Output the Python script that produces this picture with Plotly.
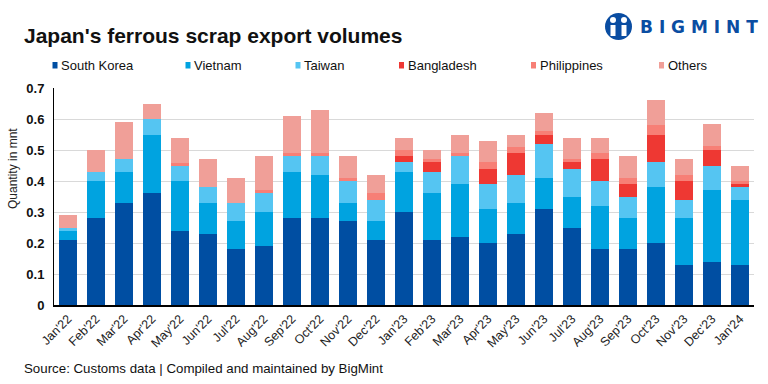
import plotly.graph_objects as go

months = ["Jan'22", "Feb'22", "Mar'22", "Apr'22", "May'22", "Jun'22", "Jul'22", "Aug'22",
          "Sep'22", "Oct'22", "Nov'22", "Dec'22", "Jan'23", "Feb'23", "Mar'23", "Apr'23",
          "May'23", "Jun'23", "Jul'23", "Aug'23", "Sep'23", "Oct'23", "Nov'23", "Dec'23", "Jan'24"]

south_korea = [0.21, 0.28, 0.33, 0.36, 0.24, 0.23, 0.18, 0.19, 0.28, 0.28, 0.27, 0.21, 0.30,
               0.21, 0.22, 0.20, 0.23, 0.31, 0.25, 0.18, 0.18, 0.20, 0.13, 0.14, 0.13]
vietnam = [0.03, 0.12, 0.10, 0.19, 0.16, 0.10, 0.09, 0.11, 0.15, 0.14, 0.06, 0.06, 0.13,
           0.15, 0.17, 0.11, 0.10, 0.10, 0.10, 0.14, 0.10, 0.18, 0.15, 0.23, 0.21]
taiwan = [0.01, 0.03, 0.04, 0.05, 0.05, 0.05, 0.06, 0.06, 0.05, 0.06, 0.07, 0.07, 0.03,
          0.07, 0.09, 0.08, 0.09, 0.11, 0.09, 0.08, 0.07, 0.08, 0.06, 0.08, 0.04]
bangladesh = [0, 0, 0, 0, 0, 0, 0, 0, 0, 0, 0, 0, 0.02,
              0.03, 0, 0.05, 0.07, 0.03, 0.02, 0.07, 0.04, 0.09, 0.06, 0.05, 0.01]
philippines = [0, 0, 0, 0, 0.008, 0, 0, 0.01, 0.01, 0.01, 0.01, 0.02, 0.02,
               0.01, 0.01, 0.02, 0.02, 0.01, 0.01, 0.02, 0.02, 0.03, 0.02, 0.013, 0.01]
others = [0.04, 0.07, 0.12, 0.05, 0.08, 0.09, 0.08, 0.11, 0.12, 0.14, 0.07, 0.06, 0.04,
          0.03, 0.06, 0.07, 0.04, 0.06, 0.07, 0.05, 0.07, 0.08, 0.05, 0.07, 0.05]

series_names = ["South Korea", "Vietnam", "Taiwan", "Bangladesh", "Philippines", "Others"]
series_values = [south_korea, vietnam, taiwan, bangladesh, philippines, others]
series_colors = ["#004EA2", "#00A3E0", "#55C5F2", "#EE3833", "#F77F76", "#F09F98"]
legend_px = [52.5, 185.5, 295.5, 399, 531, 659]

W, H = 768, 384
L, R, T, B = 54, 14, 88, 79
PW, PH = W - L - R, H - T - B


def px_x(p):
    return (p - L) / PW


def px_y(p):
    return (H - B - p) / PH


FONT = "Liberation Sans, Arial, sans-serif"

fig = go.Figure()
for name, vals, col in zip(series_names, series_values, series_colors):
    fig.add_trace(go.Bar(name=name, x=months, y=vals, showlegend=False,
                         marker=dict(color=col, line=dict(width=0))))

fig.update_layout(
    width=W, height=H,
    margin=dict(l=L, r=R, t=T, b=B, autoexpand=False),
    barmode="stack", bargap=0.34,
    plot_bgcolor="white", paper_bgcolor="white",
    font=dict(family=FONT, color="#000000"),
    title=dict(text="<b>Japan's ferrous scrap export volumes</b>", x=24 / W, xanchor="left",
               y=1 - 36 / H, yanchor="middle", pad=dict(l=0, r=0, t=0, b=0),
               font=dict(size=21, color="#111111")),
    showlegend=False,
)
fig.update_xaxes(showline=True, linecolor="black", linewidth=1.5, tickangle=-45,
                 tickfont=dict(size=12.5, color="#222222"), ticks="", showgrid=False, automargin=False)
fig.update_yaxes(range=[0, 0.7], dtick=0.1, tickformat=".1~f", showline=True, linecolor="black",
                 linewidth=1, gridcolor="#D9D9D9", gridwidth=1, zeroline=False, automargin=False,
                 ticks="", ticklabelstandoff=6,
                 tickfont=dict(size=13, family=FONT, weight="bold", color="#111111"))

# y-axis title
fig.add_annotation(text="Quantity in mnt", xref="paper", yref="paper", x=px_x(13), y=px_y(169),
                   textangle=-90, showarrow=False, xanchor="center", yanchor="middle",
                   font=dict(size=12, color="#222222"))

# custom legend (small squares)
for name, col, lx in zip(series_names, series_colors, legend_px):
    fig.add_shape(type="rect", xref="paper", yref="paper", x0=px_x(lx), x1=px_x(lx + 5),
                  y0=px_y(68.5), y1=px_y(62), fillcolor=col, line=dict(width=0))
    fig.add_annotation(text=name, xref="paper", yref="paper", x=px_x(lx + 6.5), y=px_y(65.5),
                       xanchor="left", yanchor="middle", showarrow=False,
                       font=dict(size=13, color="#111111"))

fig.add_annotation(text="Source: Customs data | Compiled and maintained by BigMint",
                   xref="paper", yref="paper", x=px_x(22), y=px_y(368.5), xanchor="left",
                   yanchor="middle", showarrow=False, font=dict(size=13.3, color="#111111"))

# BigMint logo (text + simple icon)
fig.add_annotation(text="<b>B I G M I N T</b>", xref="paper", yref="paper",
                   x=px_x(638), y=px_y(27), xanchor="left", yanchor="middle", showarrow=False,
                   font=dict(size=17, color="#0A4DA2", family="DejaVu Sans"))
fig.add_shape(type="circle", xref="paper", yref="paper", x0=px_x(605), x1=px_x(632),
              y0=px_y(40), y1=px_y(13), fillcolor="#0A4DA2", line=dict(width=0))
for cx in (613, 624):
    fig.add_shape(type="circle", xref="paper", yref="paper", x0=px_x(cx - 3), x1=px_x(cx + 3),
                  y0=px_y(23), y1=px_y(17), fillcolor="white", line=dict(width=0))
    fig.add_shape(type="rect", xref="paper", yref="paper", x0=px_x(cx - 2.5), x1=px_x(cx + 2.5),
                  y0=px_y(36), y1=px_y(25), fillcolor="white", line=dict(width=0))

fig.write_html("out.html", config={"displayModeBar": False},
               post_script="document.body.style.margin='0';document.body.style.overflow='hidden';")
